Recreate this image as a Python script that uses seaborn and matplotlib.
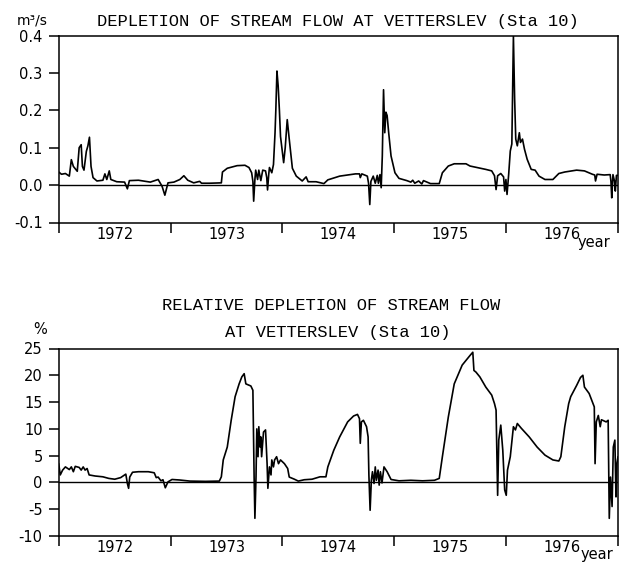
import pandas as pd
import seaborn as sns
import matplotlib.pyplot as plt
from matplotlib.ticker import FixedLocator, NullFormatter, FormatStrFormatter

# Depletion of stream flow, m3/s
flow_year = [
    1972.000, 1972.025, 1972.060, 1972.095, 1972.113, 1972.131, 1972.166, 1972.183,
    1972.201, 1972.212, 1972.226, 1972.247, 1972.261, 1972.275, 1972.289, 1972.307,
    1972.342, 1972.395, 1972.413, 1972.430, 1972.452, 1972.466, 1972.519, 1972.589,
    1972.614, 1972.632, 1972.713, 1972.819, 1972.889, 1972.924, 1972.949, 1972.977,
    1973.030, 1973.083, 1973.119, 1973.154, 1973.207, 1973.260, 1973.277, 1973.348,
    1973.454, 1973.464, 1973.507, 1973.595, 1973.665, 1973.701, 1973.725, 1973.736,
    1973.743, 1973.754, 1973.761, 1973.778, 1973.789, 1973.807, 1973.824, 1973.849,
    1973.860, 1973.867, 1973.878, 1973.884, 1973.905, 1973.920, 1973.934, 1973.941,
    1973.951, 1973.962, 1973.973, 1973.983, 1973.997, 1974.011, 1974.025, 1974.043,
    1974.061, 1974.089, 1974.124, 1974.177, 1974.212, 1974.230, 1974.301, 1974.371,
    1974.406, 1974.512, 1974.653, 1974.689, 1974.696, 1974.710, 1974.759, 1974.770,
    1974.781, 1974.791, 1974.812, 1974.830, 1974.848, 1974.858, 1974.872, 1974.883,
    1974.893, 1974.904, 1974.915, 1974.925, 1974.936, 1974.950, 1974.971, 1975.006,
    1975.042, 1975.112, 1975.148, 1975.165, 1975.183, 1975.218, 1975.246, 1975.261,
    1975.324, 1975.402, 1975.430, 1975.483, 1975.536, 1975.641, 1975.677, 1975.818,
    1975.871, 1975.896, 1975.910, 1975.924, 1975.952, 1975.977, 1975.987, 1975.998,
    1976.008, 1976.023, 1976.037, 1976.051, 1976.065, 1976.076, 1976.086, 1976.100,
    1976.118, 1976.128, 1976.146, 1976.164, 1976.188, 1976.224, 1976.259, 1976.294,
    1976.347, 1976.418, 1976.471, 1976.524, 1976.630, 1976.700, 1976.771, 1976.792,
    1976.799, 1976.813, 1976.877, 1976.930, 1976.937, 1976.944, 1976.955, 1976.969,
    1976.976, 1976.986, 1977.000,
]
flow_depl = [
    0.035, 0.029, 0.031, 0.024, 0.068, 0.050, 0.037, 0.100,
    0.108, 0.050, 0.040, 0.090, 0.105, 0.128, 0.050, 0.020,
    0.011, 0.013, 0.030, 0.015, 0.038, 0.015, 0.009, 0.008,
    -0.010, 0.012, 0.013, 0.008, 0.015, -0.003, -0.027, 0.006,
    0.008, 0.015, 0.025, 0.013, 0.006, 0.010, 0.005, 0.005,
    0.006, 0.035, 0.045, 0.052, 0.053, 0.047, 0.033, 0.010,
    -0.043, 0.015, 0.040, 0.015, 0.040, 0.012, 0.040, 0.038,
    0.020, -0.013, 0.030, 0.047, 0.033, 0.055, 0.140, 0.200,
    0.305, 0.265, 0.200, 0.130, 0.096, 0.060, 0.100, 0.175,
    0.123, 0.045, 0.024, 0.011, 0.022, 0.009, 0.009, 0.004,
    0.014, 0.024, 0.030, 0.030, 0.020, 0.030, 0.024, 0.005,
    -0.052, 0.010, 0.024, 0.005, 0.026, 0.005, 0.028, -0.007,
    0.078, 0.255, 0.140, 0.195, 0.186, 0.140, 0.078, 0.033,
    0.018, 0.012, 0.008, 0.013, 0.005, 0.011, 0.003, 0.012,
    0.004, 0.004, 0.033, 0.051, 0.057, 0.057, 0.051, 0.042,
    0.038, 0.025, -0.012, 0.025, 0.031, 0.022, -0.016, 0.015,
    -0.025, 0.030, 0.091, 0.110, 0.398, 0.230, 0.123, 0.105,
    0.140, 0.114, 0.123, 0.096, 0.069, 0.042, 0.040, 0.024,
    0.015, 0.015, 0.031, 0.035, 0.040, 0.038, 0.029, 0.027,
    0.011, 0.029, 0.027, 0.028, 0.010, -0.034, 0.028, 0.010,
    -0.016, 0.026, 0.026,
]

# Relative depletion, %
rel_year = [
    1972.000, 1972.014, 1972.035, 1972.060, 1972.095, 1972.113, 1972.131, 1972.148,
    1972.183, 1972.201, 1972.219, 1972.236, 1972.254, 1972.272, 1972.325, 1972.395,
    1972.448, 1972.501, 1972.554, 1972.600, 1972.614, 1972.625, 1972.635, 1972.660,
    1972.713, 1972.801, 1972.854, 1972.872, 1972.889, 1972.914, 1972.932, 1972.953,
    1972.977, 1973.013, 1973.083, 1973.172, 1973.313, 1973.436, 1973.454, 1973.471,
    1973.507, 1973.542, 1973.577, 1973.613, 1973.637, 1973.658, 1973.673, 1973.718,
    1973.736, 1973.747, 1973.754, 1973.764, 1973.771, 1973.782, 1973.789, 1973.800,
    1973.807, 1973.814, 1973.831, 1973.849, 1973.863, 1973.870, 1973.884, 1973.898,
    1973.905, 1973.920, 1973.930, 1973.948, 1973.965, 1973.983, 1974.018, 1974.047,
    1974.061, 1974.107, 1974.142, 1974.195, 1974.265, 1974.336, 1974.389, 1974.406,
    1974.459, 1974.512, 1974.583, 1974.636, 1974.671, 1974.689, 1974.696, 1974.706,
    1974.724, 1974.752, 1974.766, 1974.773, 1974.784, 1974.795, 1974.805, 1974.819,
    1974.830, 1974.840, 1974.855, 1974.865, 1974.876, 1974.890, 1974.908, 1974.936,
    1974.971, 1975.042, 1975.148, 1975.253, 1975.359, 1975.402, 1975.430, 1975.483,
    1975.536, 1975.607, 1975.677, 1975.702, 1975.712, 1975.730, 1975.765, 1975.818,
    1975.871, 1975.896, 1975.910, 1975.924, 1975.934, 1975.952, 1975.970, 1975.987,
    1976.001, 1976.012, 1976.037, 1976.065, 1976.083, 1976.100, 1976.136, 1976.206,
    1976.277, 1976.347, 1976.418, 1976.471, 1976.489, 1976.524, 1976.559, 1976.577,
    1976.630, 1976.665, 1976.686, 1976.700, 1976.742, 1976.771, 1976.788, 1976.795,
    1976.806, 1976.824, 1976.841, 1976.852, 1976.894, 1976.912, 1976.922, 1976.933,
    1976.947, 1976.958, 1976.972, 1976.982, 1976.990, 1977.000,
]
rel_depl = [
    3.5, 1.4, 2.3, 2.9, 2.4, 2.9, 2.0, 3.0,
    2.8, 2.3, 2.9, 2.3, 2.6, 1.4, 1.2, 1.05,
    0.75, 0.6, 0.9, 1.55, -0.2, -1.1, 1.0, 1.9,
    2.0, 2.0, 1.8, 0.9, 1.0, 0.3, 0.5, -1.0,
    0.1, 0.55, 0.45, 0.25, 0.2, 0.25, 1.05, 4.2,
    6.6, 11.6, 16.0, 18.4, 19.7, 20.3, 18.4, 18.0,
    17.2, 1.0, -6.7, 1.1, 10.0, 4.8, 10.4, 6.6,
    8.5, 4.8, 9.4, 9.8, 3.5, -1.1, 2.9, 1.4,
    4.2, 2.9, 4.2, 4.8, 3.5, 4.2, 3.5, 2.6,
    1.0, 0.6, 0.25, 0.5, 0.6, 1.05, 1.05, 2.9,
    6.0, 8.5, 11.3, 12.4, 12.7, 11.9, 7.3, 11.3,
    11.6, 10.4, 8.5, 1.4, -5.2, 0.4, 2.0, -0.2,
    2.9, 0.4, 2.3, -0.5, 2.0, -0.1, 2.9, 2.0,
    0.55, 0.3, 0.4, 0.3, 0.4, 0.75, 4.8, 12.2,
    18.4, 21.9, 23.7, 24.3, 20.9, 20.6, 19.7, 17.8,
    16.3, 14.7, 13.5, -2.4, 7.9, 10.7, 6.0, -1.4,
    -2.4, 2.3, 4.8, 10.4, 9.8, 11.0, 10.1, 8.5,
    6.6, 5.1, 4.2, 4.0, 4.8, 10.4, 14.7, 16.0,
    18.1, 19.6, 20.0, 17.8, 16.6, 15.0, 14.1, 3.5,
    11.3, 12.5, 10.4, 11.7, 11.3, 11.6, -6.7, 1.0,
    -4.5, 6.6, 7.9, -2.7, 3.5, 4.8,
]

year_bounds = [1972, 1973, 1974, 1975, 1976, 1977]
year_labels = ['1972', '1973', '1974', '1975', '1976']

sns.set_theme(style='ticks')
plt.rcParams['font.family'] = ['DejaVu Sans']
plt.rcParams['axes.unicode_minus'] = False
plt.rcParams['text.color'] = 'black'
plt.rcParams['axes.labelcolor'] = 'black'
plt.rcParams['xtick.color'] = 'black'
plt.rcParams['ytick.color'] = 'black'

W, H = 619, 562
fig = plt.figure(figsize=(W / 100, H / 100), dpi=100)
fig.patch.set_facecolor('white')

ax1 = fig.add_axes([58.7 / W, 1 - 222.5 / H, (618 - 58.7) / W, (222.5 - 35.5) / H])
ax2 = fig.add_axes([58.7 / W, 1 - 536 / H, (618 - 58.7) / W, (536 - 348.5) / H])


def style_axis(ax, ylim, yticks, fmt):
    ax.set_facecolor('white')
    ax.axhline(0, color='black', lw=1.0, zorder=1)
    ax.set_xlim(1972, 1977)
    ax.set_ylim(*ylim)
    ax.set_yticks(yticks)
    ax.yaxis.set_major_formatter(FormatStrFormatter(fmt))
    ax.xaxis.set_major_locator(FixedLocator(year_bounds))
    ax.xaxis.set_major_formatter(NullFormatter())
    ax.xaxis.set_minor_locator(FixedLocator([y + 0.5 for y in year_bounds[:-1]]))
    ax.set_xticklabels(year_labels, minor=True)
    ax.tick_params(axis='both', which='major', direction='out', length=7.5,
                   width=1.1, color='black', labelsize=10.5, labelcolor='black', pad=4)
    ax.tick_params(axis='x', which='minor', length=0, pad=3, labelsize=10.5,
                   labelcolor='black')
    for sp in ax.spines.values():
        sp.set_visible(True)
        sp.set_color('black')
        sp.set_linewidth(1.1)
    ax.set_xlabel('')
    ax.set_ylabel('')


top = pd.DataFrame({'year': flow_year, 'depletion': flow_depl})
sns.lineplot(data=top, x='year', y='depletion', ax=ax1, color='black',
             lw=1.2, estimator=None, sort=False, zorder=3)
style_axis(ax1, (-0.1, 0.4), [-0.1, 0.0, 0.1, 0.2, 0.3, 0.4], '%.1f')

bot = pd.DataFrame({'year': rel_year, 'relative': rel_depl})
sns.lineplot(data=bot, x='year', y='relative', ax=ax2, color='black',
             lw=1.2, estimator=None, sort=False, zorder=3)
style_axis(ax2, (-10, 25), [-10, -5, 0, 5, 10, 15, 20, 25], '%d')

mono = 'Liberation Mono'
fig.text(338 / W, 1 - 21.5 / H, 'DEPLETION OF STREAM FLOW AT VETTERSLEV (Sta 10)',
         family=mono, fontsize=12.3, ha='center', va='center', color='black')
fig.text(331 / W, 1 - 305.5 / H, 'RELATIVE DEPLETION OF STREAM FLOW',
         family=mono, fontsize=12.3, ha='center', va='center', color='black')
fig.text(338 / W, 1 - 333 / H, 'AT VETTERSLEV (Sta 10)',
         family=mono, fontsize=12.3, ha='center', va='center', color='black')

fig.text(32 / W, 1 - 24 / H, 'm³/s', fontsize=10, ha='center', va='baseline')
fig.text(40 / W, 1 - 329 / H, '%', fontsize=10.5, ha='center', va='center')
fig.text(594 / W, 1 - 242 / H, 'year', fontsize=10.5, ha='center', va='center')
fig.text(597 / W, 1 - 555 / H, 'year', fontsize=10.5, ha='center', va='center')

fig.savefig('out.png', dpi=100, facecolor='white')
